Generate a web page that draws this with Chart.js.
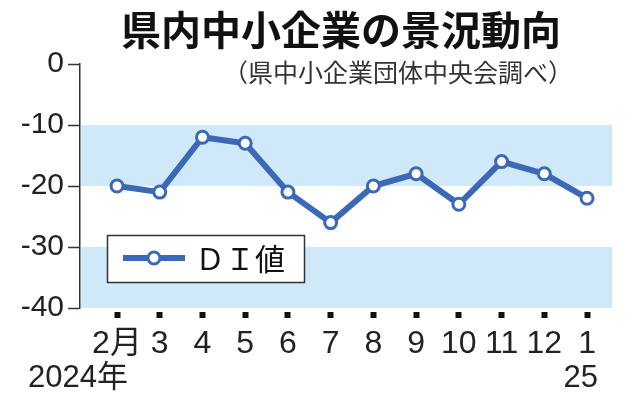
<!DOCTYPE html>
<html>
<head>
<meta charset="utf-8">
<script src="https://cdn.jsdelivr.net/npm/chart.js@4/dist/chart.umd.min.js"></script>
<style>
html,body{margin:0;padding:0;background:#fff;}
canvas{display:block;}
</style>
</head>
<body>
<canvas id="c" width="634" height="400"></canvas>
<script>
const titleText = '県内中小企業の景況動向';
const subtitleText = '（県中小企業団体中央会調べ）';
const seriesLabel = 'ＤＩ値';
const months = ['2月', '3', '4', '5', '6', '7', '8', '9', '10', '11', '12', '1'];
const yearLabels = ['2024年', '', '', '', '', '', '', '', '', '', '', '25'];
const diValues = [-20, -21, -12, -13, -21, -26, -20, -18, -23, -16, -18, -22];
const yTicks = [0, -10, -20, -30, -40];
const bands = [[-10, -20], [-30, -40]];

const LINE = '#3b69b6';
const BAND = '#cfe9f8';
const INK = '#222';
const NUMFONT = "'Liberation Sans', Arial, 'Noto Sans CJK JP', sans-serif";
const JPFONT = "'Noto Sans CJK JP', sans-serif";

const bandPlugin = {
  id: 'bands',
  beforeDatasetsDraw(chart) {
    const {ctx, chartArea, scales} = chart;
    ctx.save();
    ctx.fillStyle = BAND;
    bands.forEach(([a, b]) => {
      const y1 = scales.y.getPixelForValue(a);
      const y2 = scales.y.getPixelForValue(b);
      ctx.fillRect(chartArea.left + 1, Math.min(y1, y2), chartArea.right - chartArea.left - 1, Math.abs(y2 - y1));
    });
    ctx.restore();
  }
};

const textPlugin = {
  id: 'texts',
  afterDraw(chart) {
    const {ctx} = chart;
    ctx.save();
    ctx.fillStyle = '#111';
    ctx.font = "bold 40px " + JPFONT;
    ctx.textAlign = 'center';
    ctx.textBaseline = 'middle';
    ctx.fillText(titleText, 341, 30);
    ctx.fillStyle = '#333';
    ctx.font = "25px " + JPFONT;
    ctx.textAlign = 'right';
    ctx.fillText(subtitleText, 573, 72);

    // legend box
    const ds = chart.data.datasets[0];
    ctx.fillStyle = '#fff';
    ctx.fillRect(107, 235, 197, 47);
    ctx.strokeStyle = '#333';
    ctx.lineWidth = 1.5;
    ctx.strokeRect(107.5, 235.5, 197, 47);
    ctx.strokeStyle = ds.borderColor;
    ctx.lineWidth = ds.borderWidth;
    ctx.beginPath();
    ctx.moveTo(123, 258);
    ctx.lineTo(185, 258);
    ctx.stroke();
    ctx.beginPath();
    ctx.arc(154, 258, ds.pointRadius, 0, Math.PI * 2);
    ctx.fillStyle = '#fff';
    ctx.fill();
    ctx.lineWidth = ds.pointBorderWidth;
    ctx.stroke();
    ctx.fillStyle = '#111';
    ctx.font = "30px " + JPFONT;
    ctx.textAlign = 'left';
    ctx.textBaseline = 'middle';
    ctx.fillText(ds.label, 195, 259);
    ctx.restore();
  }
};

new Chart(document.getElementById('c'), {
  type: 'line',
  data: {
    datasets: [{
      label: seriesLabel,
      data: diValues.map((v, i) => ({x: i, y: v})),
      borderColor: LINE,
      borderWidth: 6,
      pointRadius: 6,
      pointBorderWidth: 3,
      pointBackgroundColor: '#fff',
      pointBorderColor: LINE,
      tension: 0,
      clip: false
    }]
  },
  options: {
    responsive: false,
    animation: false,
    devicePixelRatio: 1,
    layout: {padding: {top: 64, right: 22, left: 0, bottom: 0}},
    plugins: {legend: {display: false}, title: {display: false}, tooltip: {enabled: false}},
    scales: {
      x: {
        type: 'linear',
        position: 'bottom',
        weight: 0,
        min: -0.866,
        max: 11.584,
        afterBuildTicks: s => { s.ticks = months.map((_, i) => ({value: i})); },
        afterFit: s => { s.height = 52; },
        border: {display: false},
        grid: {
          drawOnChartArea: false, drawTicks: true, tickLength: 12,
          tickWidth: 6, tickColor: '#111',
          tickBorderDash: [6, 100], tickBorderDashOffset: 102
        },
        ticks: {
          autoSkip: false, maxRotation: 0, padding: 5,
          color: INK, font: {family: NUMFONT, size: 32},
          callback: v => months[v]
        }
      },
      x2: {
        type: 'linear',
        position: 'bottom',
        weight: 1,
        min: -0.866,
        max: 11.584,
        afterBuildTicks: s => { s.ticks = yearLabels.map((_, i) => ({value: i})); },
        afterFit: s => { s.height = 40; },
        border: {display: false},
        grid: {display: false, drawTicks: false},
        ticks: {
          autoSkip: false, maxRotation: 0, padding: 0, align: 'end', labelOffset: 11,
          color: INK, font: {family: NUMFONT, size: 31},
          callback: v => yearLabels[v]
        }
      },
      y: {
        min: -40,
        max: 0,
        afterBuildTicks: s => { s.ticks = yTicks.map(v => ({value: v})); },
        afterFit: s => { s.width = 80; },
        border: {display: true, color: '#333', width: 1.5},
        grid: {drawOnChartArea: false, drawTicks: true, tickLength: 12, tickColor: '#333', tickWidth: 1.5},
        ticks: {
          padding: 4, color: INK, font: {family: NUMFONT, size: 30},
          callback: v => String(v)
        }
      }
    }
  },
  plugins: [bandPlugin, textPlugin]
});
</script>
</body>
</html>
